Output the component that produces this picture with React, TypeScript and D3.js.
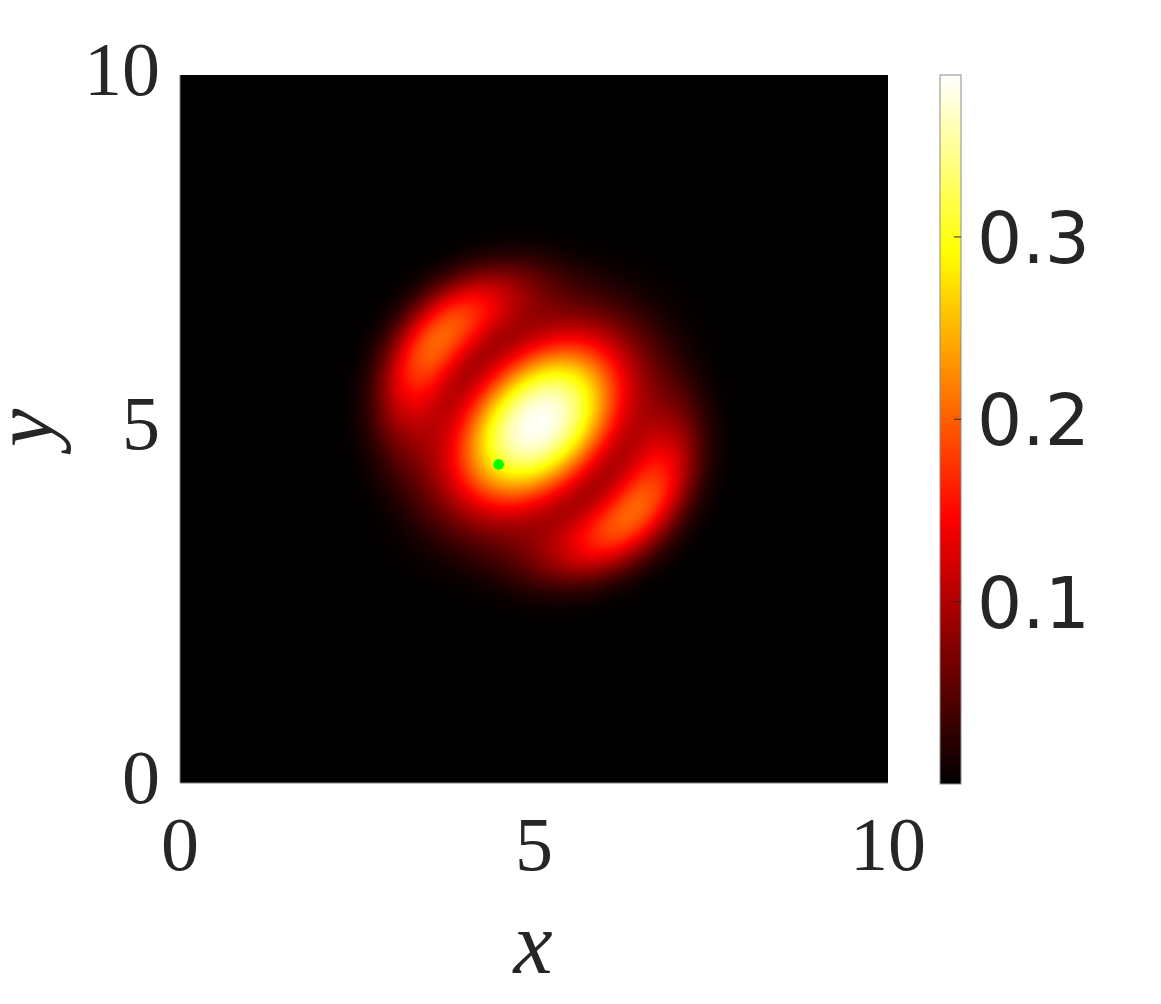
import React, { useMemo } from 'react';
import * as d3 from 'd3';

// axis ticks and colour limits
const xTicks = [0, 5, 10];
const yTicks = [0, 5, 10];
const cbTicks = [0.1, 0.2, 0.3];
const cLim = [0, 0.3888];
const marker = [4.5, 4.5];

// bright central lobe: centre, peak, widths along (u) / across (v) the lobe axis, shape exponent
const coreCentre = [5.06, 5.08];
const corePeak = 0.385;
const coreWidth = [0.7, 1.04];
const coreShape = 2.4;
const lobeAxisDeg = -45;
// two side arcs on a ring around the core
const arcAngleDeg = [140, -43];
const arcRadius = [1.84, 1.84];
const arcPeak = [0.2, 0.2];
const arcWidthR = [0.37, 0.37];
const arcShapeR = [2.2, 2.2];
const arcSigmaDeg = [32, 32];

const W = 1161, H = 1004;
const plot = { left: 180, right: 888, top: 75, bottom: 783 };
const cbar = { left: 940, right: 961, top: 75, bottom: 784 };
const textColor = '#262626';

// MATLAB "hot"
const hot = (t: number) => {
  const c = (v: number) => Math.max(0, Math.min(1, v));
  return d3.rgb(c(t / 0.375) * 255, c((t - 0.375) / 0.375) * 255, c((t - 0.75) / 0.25) * 255);
};

const density = (x: number, y: number) => {
  const a = (lobeAxisDeg * Math.PI) / 180;
  const dx = x - coreCentre[0], dy = y - coreCentre[1];
  const u = dx * Math.cos(a) + dy * Math.sin(a);
  const v = -dx * Math.sin(a) + dy * Math.cos(a);
  const q = (u / coreWidth[0]) ** 2 + (v / coreWidth[1]) ** 2;
  let val = corePeak * Math.exp(-0.5 * Math.pow(q, coreShape / 2));
  const r = Math.hypot(dx, dy);
  const th = Math.atan2(dy, dx);
  arcAngleDeg.forEach((ang, i) => {
    let d = th - (ang * Math.PI) / 180;
    d = Math.atan2(Math.sin(d), Math.cos(d));
    const s = (arcSigmaDeg[i] * Math.PI) / 180;
    val += arcPeak[i] * Math.exp(
      -0.5 * Math.pow(Math.abs((r - arcRadius[i]) / arcWidthR[i]), arcShapeR[i])
      - (d * d) / (2 * s * s)
    );
  });
  return val;
};

export default function App() {
  const x = d3.scaleLinear().domain([0, 10]).range([plot.left, plot.right]);
  const y = d3.scaleLinear().domain([0, 10]).range([plot.bottom, plot.top]);
  const cy = d3.scaleLinear().domain(cLim).range([cbar.bottom, cbar.top]);
  const color = d3.scaleSequential(hot).domain(cLim).clamp(true);

  const img = useMemo(() => {
    const w = plot.right - plot.left, h = plot.bottom - plot.top;
    const canvas = document.createElement('canvas');
    canvas.width = w;
    canvas.height = h;
    const ctx = canvas.getContext('2d')!;
    const data = ctx.createImageData(w, h);
    for (let j = 0; j < h; j++) {
      const yy = y.invert(plot.top + j + 0.5);
      for (let i = 0; i < w; i++) {
        const c = d3.rgb(color(density(x.invert(plot.left + i + 0.5), yy)) as any);
        const k = (j * w + i) * 4;
        data.data[k] = c.r;
        data.data[k + 1] = c.g;
        data.data[k + 2] = c.b;
        data.data[k + 3] = 255;
      }
    }
    ctx.putImageData(data, 0, 0);
    return canvas.toDataURL();
  }, []);

  const stops = d3.range(0, 1.0001, 0.02);

  return (
    <svg width={W} height={H} style={{ position: 'absolute', left: 0, top: 0, background: '#fff' }}>
      <defs>
        <linearGradient id="cb" x1="0" y1="1" x2="0" y2="0">
          {stops.map(s => (
            <stop key={s} offset={s} stopColor={hot(s).toString()} />
          ))}
        </linearGradient>
      </defs>
      <image href={img} x={plot.left} y={plot.top} width={plot.right - plot.left} height={plot.bottom - plot.top} />
      <line x1={plot.left} x2={plot.left} y1={plot.top} y2={plot.bottom} stroke="#808080" strokeWidth={1} />
      <line x1={plot.left} x2={plot.right} y1={plot.bottom} y2={plot.bottom} stroke="#808080" strokeWidth={1} />
      <circle cx={x(marker[0])} cy={y(marker[1])} r={5.3} fill="#00ff00" />

      <g fontFamily="'Liberation Serif', serif" fontSize={76} fill={textColor}>
        {xTicks.map(t => (
          <text key={'x' + t} x={x(t)} y={870} textAnchor="middle">{t}</text>
        ))}
        {yTicks.map(t => (
          <text key={'y' + t} x={160} y={y(t) + 20} textAnchor="end">{t}</text>
        ))}
      </g>
      <text x={533} y={973} textAnchor="middle" fontFamily="'Liberation Serif', serif" fontStyle="italic" fontSize={88} fill={textColor}>x</text>
      <text transform="translate(52,428) rotate(-90)" textAnchor="middle" fontFamily="'Liberation Serif', serif" fontStyle="italic" fontSize={86} fill={textColor}>y</text>

      <rect x={cbar.left} y={cbar.top} width={cbar.right - cbar.left} height={cbar.bottom - cbar.top} fill="url(#cb)" stroke="#8c8c8c" strokeWidth={1} />
      {cbTicks.map(t => (
        <g key={'c' + t}>
          <line x1={cbar.right - 7} x2={cbar.right} y1={cy(t)} y2={cy(t)} stroke={textColor} strokeWidth={1} />
          <text x={977} y={cy(t) + 26} fontFamily="'DejaVu Sans', sans-serif" fontSize={71} fill={textColor}>{t}</text>
        </g>
      ))}
    </svg>
  );
}
